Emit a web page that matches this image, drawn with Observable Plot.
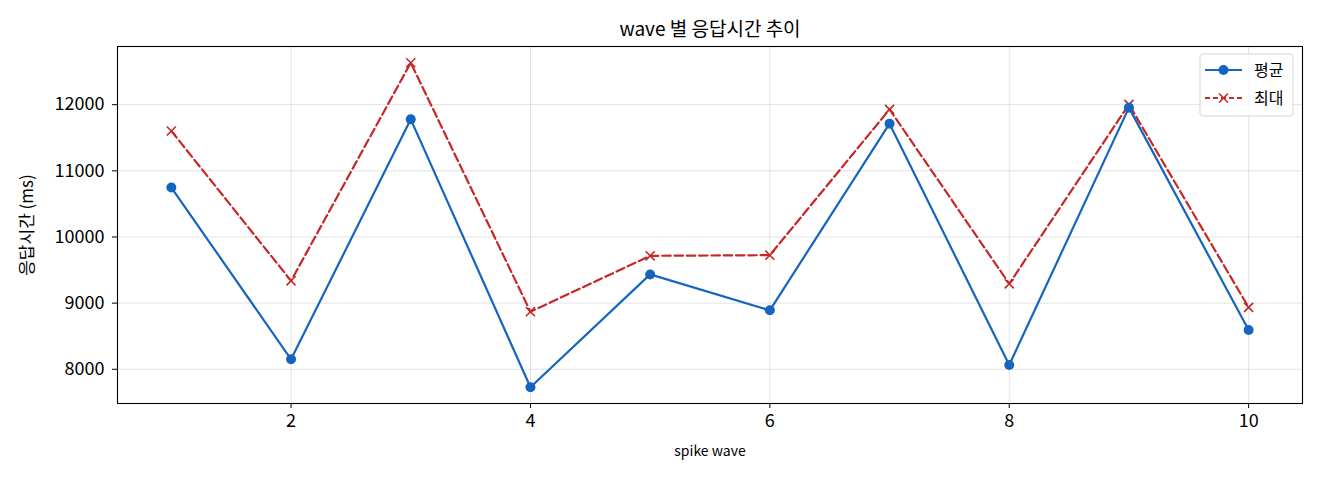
<!DOCTYPE html>
<html>
<head>
<meta charset="utf-8">
<script src="https://cdn.jsdelivr.net/npm/d3@7"></script>
<script src="https://cdn.jsdelivr.net/npm/@observablehq/plot@0.6"></script>
<style>
  html, body { margin: 0; padding: 0; background: #fff; }
  #chart { width: 1320px; height: 480px; }
</style>
</head>
<body>
<div id="chart"></div>
<script>
const waves = [1, 2, 3, 4, 5, 6, 7, 8, 9, 10];
const avgMs = [10747, 8151, 11778, 7728, 9434, 8891, 11713, 8065, 11955, 8593];
const maxMs = [11602, 9337, 12634, 8870, 9715, 9725, 11929, 9292, 12004, 8936];
const xTicks = [2, 4, 6, 8, 10];
const yTicks = [8000, 9000, 10000, 11000, 12000];
const titleText = "wave 별 응답시간 추이";
const xLabel = "spike wave";
const yLabel = "응답시간 (ms)";
const seriesNames = ["평균", "최대"];
const blue = "#1565c0";
const red = "#c62828";

const rows = waves.map((w, i) => ({wave: w, avg: avgMs[i], max: maxMs[i]}));
const all = avgMs.concat(maxMs);
const lo = d3.min(all), hi = d3.max(all), pad = (hi - lo) * 0.05;
const xPad = (d3.max(waves) - d3.min(waves)) * 0.05;

const korean = "'Noto Sans CJK KR', sans-serif";

const plot = Plot.plot({
  width: 1320,
  height: 480,
  marginLeft: 117,
  marginRight: 18,
  marginTop: 46,
  marginBottom: 77,
  style: {fontFamily: korean, fontSize: "18px", color: "#000", background: "#fff"},
  x: {domain: [d3.min(waves) - xPad, d3.max(waves) + xPad]},
  y: {domain: [lo - pad, hi + pad]},
  marks: [
    Plot.gridX(xTicks, {stroke: "#b0b0b0", strokeOpacity: 0.35, strokeWidth: 1}),
    Plot.gridY(yTicks, {stroke: "#b0b0b0", strokeOpacity: 0.35, strokeWidth: 1}),
    Plot.axisX(xTicks, {tickSize: 5, tickPadding: 6, label: null, tickFormat: "d", fontSize: 18}),
    Plot.axisY(yTicks, {tickSize: 5, tickPadding: 8, label: null, tickFormat: "d", fontSize: 18}),
    Plot.line(rows, {x: "wave", y: "max", stroke: red, strokeWidth: 2.2, strokeDasharray: "8.5,3.8"}),
    Plot.dot(rows, {x: "wave", y: "max", symbol: "times", stroke: red, strokeWidth: 1.6, r: 4.2}),
    Plot.line(rows, {x: "wave", y: "avg", stroke: blue, strokeWidth: 2.2}),
    Plot.dot(rows, {x: "wave", y: "avg", fill: blue, stroke: "none", r: 5}),
    Plot.frame({stroke: "#000", strokeWidth: 1.1}),
    Plot.text([titleText], {frameAnchor: "top", lineAnchor: "middle", dy: -17, fontSize: 19, fill: "#000"}),
    Plot.text([xLabel], {frameAnchor: "bottom", lineAnchor: "middle", dy: 48, fontSize: 14, fill: "#000"}),
    Plot.text([yLabel], {frameAnchor: "left", textAnchor: "middle", lineAnchor: "middle", dx: -90, rotate: -90, fontSize: 17, fill: "#000"})
  ]
});

// legend (drawn in the SVG's upper-right corner, matplotlib-style)
const svg = d3.select(plot);
const lg = svg.append("g").attr("font-family", korean).attr("font-size", 16).attr("text-anchor", "start");
lg.append("rect").attr("x", 1200).attr("y", 54).attr("width", 93).attr("height", 62)
  .attr("rx", 3).attr("fill", "#fff").attr("fill-opacity", 0.8).attr("stroke", "#d5d5d5");
const entries = [
  {name: seriesNames[0], color: blue, dash: null, marker: "dot"},
  {name: seriesNames[1], color: red, dash: "5,3", marker: "times"}
];
entries.forEach((e, i) => {
  const cy = 70 + i * 28;
  lg.append("line").attr("x1", 1205).attr("x2", 1242).attr("y1", cy).attr("y2", cy)
    .attr("stroke", e.color).attr("stroke-width", 2.2).attr("stroke-dasharray", e.dash);
  if (e.marker === "dot") {
    lg.append("circle").attr("cx", 1223.5).attr("cy", cy).attr("r", 5).attr("fill", e.color);
  } else {
    const s = 4.5;
    lg.append("path").attr("d", `M${1223.5 - s},${cy - s}L${1223.5 + s},${cy + s}M${1223.5 - s},${cy + s}L${1223.5 + s},${cy - s}`)
      .attr("stroke", e.color).attr("stroke-width", 1.6);
  }
  lg.append("text").attr("x", 1254).attr("y", cy).attr("dy", "0.35em").attr("fill", "#000").text(e.name);
});

document.getElementById("chart").appendChild(plot);
</script>
</body>
</html>
